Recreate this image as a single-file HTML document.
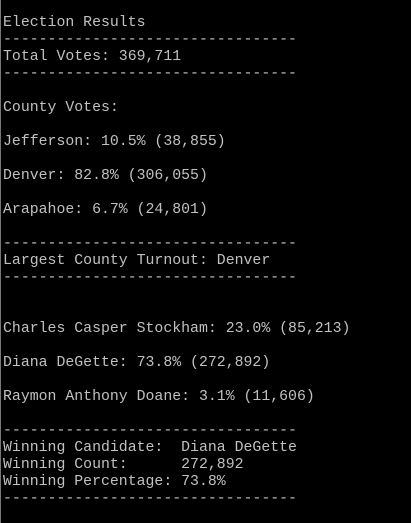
<!DOCTYPE html>
<html><head><meta charset="utf-8"><style>
html,body{margin:0;padding:0;background:#000;}
body{width:411px;height:523px;overflow:hidden;position:relative;border-left:1px solid #777;box-sizing:border-box;}
pre{position:absolute;left:2px;top:15px;margin:0;font-family:"Liberation Mono",monospace;font-size:14.85px;line-height:17px;color:#c0c0c0;}
</style></head><body>
<pre>Election Results
---------------------------------
Total Votes: 369,711
---------------------------------

County Votes:

Jefferson: 10.5% (38,855)

Denver: 82.8% (306,055)

Arapahoe: 6.7% (24,801)

---------------------------------
Largest County Turnout: Denver
---------------------------------


Charles Casper Stockham: 23.0% (85,213)

Diana DeGette: 73.8% (272,892)

Raymon Anthony Doane: 3.1% (11,606)

---------------------------------
Winning Candidate:  Diana DeGette
Winning Count:      272,892
Winning Percentage: 73.8%
---------------------------------</pre>
</body></html>
